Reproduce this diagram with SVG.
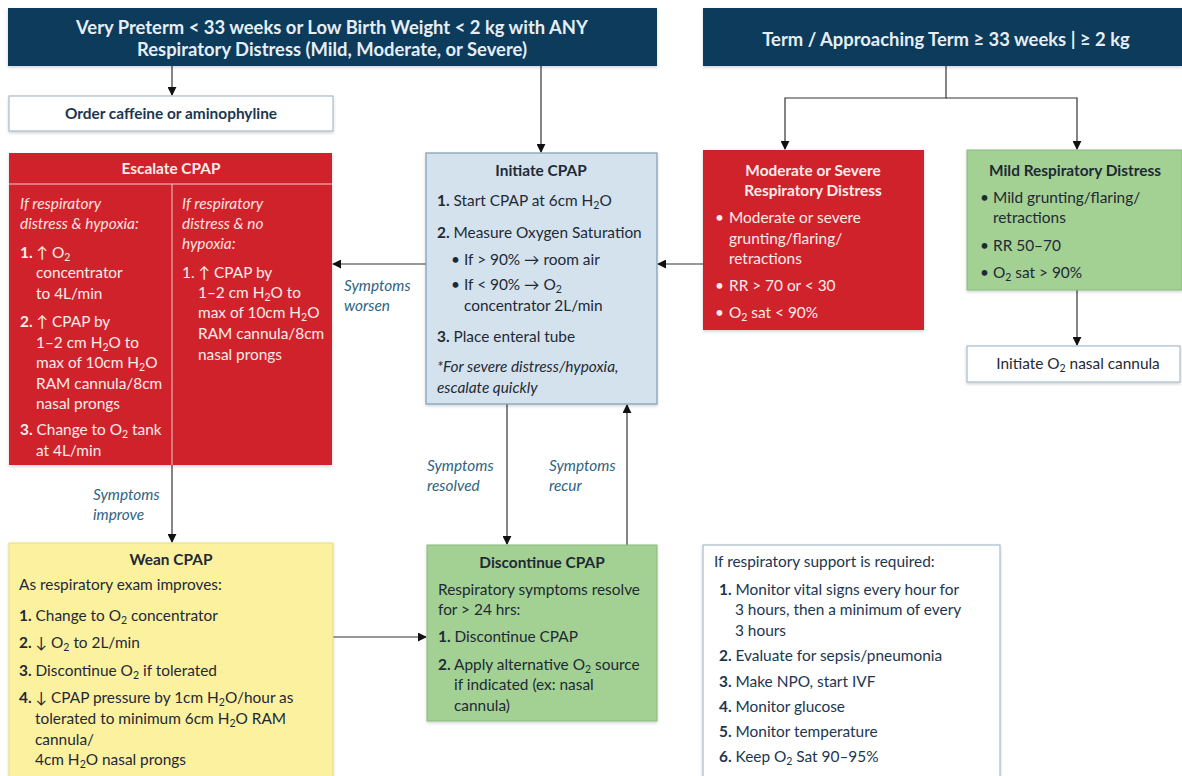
<svg xmlns="http://www.w3.org/2000/svg" width="1182" height="776" viewBox="0 0 1182 776">
  <defs>
    <style>
      text { font-family: Lato, "Open Sans", "Liberation Sans", sans-serif; font-size: 15.4px; fill: #1e2a36; }
      .hdrt { font-weight: bold; font-size: 18.4px; fill: #e6eef4; }
      .hdr { fill: #0e3a5c; }
      .b { font-weight: bold; }
      .it { font-style: italic; }
      .w { fill: #fbecec; }
      .wi { fill: #fbe3e3; font-style: italic; }
      .ttl { font-weight: bold; text-anchor: middle; }
      .nav { fill: #1c3650; }
      .lbl { fill: #2f6382; font-style: italic; }
      .s { font-size: 10.5px; }
      .red { fill: #d0222c; }
      .blue { fill: #d4e2ee; stroke: #7f9db3; stroke-width: 1.2; }
      .green { fill: #a3d093; stroke: #8ab87c; stroke-width: 1; }
      .yellow { fill: #fcf19f; stroke: #e8dc88; stroke-width: 1; }
      .plain { fill: #ffffff; stroke: #a9bccb; stroke-width: 1.2; }
      .conn line, .conn polyline { stroke: #333; stroke-width: 1.2; fill: none; }
    </style>
    <marker id="arr" viewBox="0 0 10 10" refX="9" refY="5" markerWidth="9" markerHeight="9" orient="auto" markerUnits="userSpaceOnUse">
      <path d="M0,0 L10,5 L0,10 z" fill="#111"/>
    </marker>
    <filter id="sh" x="-5%" y="-5%" width="110%" height="115%">
      <feDropShadow dx="0" dy="1.5" stdDeviation="1.5" flood-color="#000" flood-opacity="0.18"/>
    </filter>
  </defs>

  <rect width="1182" height="776" fill="#ffffff"/>

  <!-- connectors -->
  <g class="conn" id="connectors">
    <line x1="172" y1="66" x2="172" y2="95" marker-end="url(#arr)"/>
    <line x1="541" y1="66" x2="541" y2="152" marker-end="url(#arr)"/>
    <polyline points="946,66 946,98 785,98 785,149" marker-end="url(#arr)"/>
    <polyline points="946,98 1077,98 1077,149" marker-end="url(#arr)"/>
    <line x1="703" y1="264" x2="658" y2="264" marker-end="url(#arr)"/>
    <line x1="426" y1="264" x2="333" y2="264" marker-end="url(#arr)"/>
    <line x1="1077" y1="290" x2="1077" y2="345" marker-end="url(#arr)"/>
    <line x1="507" y1="404" x2="507" y2="544" marker-end="url(#arr)"/>
    <line x1="627" y1="545" x2="627" y2="405" marker-end="url(#arr)"/>
    <line x1="172" y1="465" x2="172" y2="542" marker-end="url(#arr)"/>
    <line x1="333" y1="637" x2="426" y2="637" marker-end="url(#arr)"/>
    <text class="lbl" x="344" y="291">Symptoms</text>
    <text class="lbl" x="344" y="311">worsen</text>
    <text class="lbl" x="427" y="471">Symptoms</text>
    <text class="lbl" x="427" y="491">resolved</text>
    <text class="lbl" x="549" y="471">Symptoms</text>
    <text class="lbl" x="549" y="491">recur</text>
    <text class="lbl" x="93" y="500">Symptoms</text>
    <text class="lbl" x="93" y="520">improve</text>
  </g>

  <!-- left header -->
  <g id="hdr-preterm">
    <rect class="hdr" x="8" y="8" width="649" height="58" filter="url(#sh)"/>
    <text class="hdrt" x="332" y="34" text-anchor="middle">Very Preterm &lt; 33 weeks or Low Birth Weight &lt; 2 kg with ANY</text>
    <text class="hdrt" x="332" y="56" text-anchor="middle">Respiratory Distress (Mild, Moderate, or Severe)</text>
  </g>

  <!-- right header -->
  <g id="hdr-term">
    <rect class="hdr" x="703" y="8" width="479" height="58" filter="url(#sh)"/>
    <text class="hdrt" x="946" y="46" text-anchor="middle">Term / Approaching Term ≥ 33 weeks | ≥ 2 kg</text>
  </g>

  <!-- caffeine -->
  <g id="caffeine">
    <rect class="plain" x="9" y="96" width="324" height="35" filter="url(#sh)"/>
    <text class="b nav" x="171" y="119" text-anchor="middle">Order caffeine or aminophyline</text>
  </g>

  <!-- escalate CPAP -->
  <g id="escalate">
    <rect class="red" x="9" y="153" width="323" height="312" filter="url(#sh)"/>
    <line x1="9" y1="184" x2="332" y2="184" stroke="#f3c9c9" stroke-width="1"/>
    <line x1="172" y1="184" x2="172" y2="465" stroke="#f3c9c9" stroke-width="1"/>
    <text class="ttl w" x="171" y="174">Escalate CPAP</text>
    <text class="wi" x="20" y="209">If respiratory</text>
    <text class="wi" x="20" y="229">distress &amp; hypoxia:</text>
    <text class="w" x="20" y="258"><tspan class="b">1.</tspan> ↑ O<tspan class="s" baseline-shift="-3">2</tspan></text>
    <text class="w" x="36" y="278">concentrator</text>
    <text class="w" x="36" y="299">to 4L/min</text>
    <text class="w" x="20" y="327"><tspan class="b">2.</tspan> ↑ CPAP by</text>
    <text class="w" x="36" y="348">1–2 cm H<tspan class="s" baseline-shift="-3">2</tspan>O to</text>
    <text class="w" x="36" y="368">max of 10cm H<tspan class="s" baseline-shift="-3">2</tspan>O</text>
    <text class="w" x="36" y="389">RAM cannula/8cm</text>
    <text class="w" x="36" y="409">nasal prongs</text>
    <text class="w" x="20" y="435"><tspan class="b">3.</tspan> Change to O<tspan class="s" baseline-shift="-3">2</tspan> tank</text>
    <text class="w" x="36" y="456">at 4L/min</text>

    <text class="wi" x="182" y="209">If respiratory</text>
    <text class="wi" x="182" y="229">distress &amp; no</text>
    <text class="wi" x="182" y="249">hypoxia:</text>
    <text class="w" x="182" y="278">1. ↑ CPAP by</text>
    <text class="w" x="198" y="298">1–2 cm H<tspan class="s" baseline-shift="-3">2</tspan>O to</text>
    <text class="w" x="198" y="318">max of 10cm H<tspan class="s" baseline-shift="-3">2</tspan>O</text>
    <text class="w" x="198" y="339">RAM cannula/8cm</text>
    <text class="w" x="198" y="360">nasal prongs</text>
  </g>

  <!-- initiate CPAP -->
  <g id="initiate">
    <rect class="blue" x="426" y="153" width="231" height="251" filter="url(#sh)"/>
    <text class="ttl" x="541" y="176">Initiate CPAP</text>
    <text x="437" y="206"><tspan class="b">1.</tspan> Start CPAP at 6cm H<tspan class="s" baseline-shift="-3">2</tspan>O</text>
    <text x="437" y="238"><tspan class="b">2.</tspan> Measure Oxygen Saturation</text>
    <text x="451" y="265">•</text>
    <text x="464" y="265">If &gt; 90% → room air</text>
    <text x="451" y="290">•</text>
    <text x="464" y="290">If &lt; 90% → O<tspan class="s" baseline-shift="-3">2</tspan></text>
    <text x="464" y="311">concentrator 2L/min</text>
    <text x="437" y="342"><tspan class="b">3.</tspan> Place enteral tube</text>
    <text class="it" x="437" y="372">*For severe distress/hypoxia,</text>
    <text class="it" x="437" y="393">escalate quickly</text>
  </g>

  <!-- moderate / severe -->
  <g id="moderate">
    <rect class="red" x="703" y="150" width="221" height="180" filter="url(#sh)"/>
    <text class="ttl w" x="813" y="176">Moderate or Severe</text>
    <text class="ttl w" x="813" y="196">Respiratory Distress</text>
    <text class="w" x="715" y="223">•</text>
    <text class="w" x="729" y="223">Moderate or severe</text>
    <text class="w" x="729" y="244">grunting/flaring/</text>
    <text class="w" x="729" y="264">retractions</text>
    <text class="w" x="715" y="291">•</text>
    <text class="w" x="729" y="291">RR &gt; 70 or &lt; 30</text>
    <text class="w" x="715" y="318">•</text>
    <text class="w" x="729" y="318">O<tspan class="s" baseline-shift="-3">2</tspan> sat &lt; 90%</text>
  </g>

  <!-- mild -->
  <g id="mild">
    <rect class="green" x="967" y="150" width="215" height="140" filter="url(#sh)"/>
    <text class="ttl" x="1075" y="176">Mild Respiratory Distress</text>
    <text x="980" y="203">•</text>
    <text x="993" y="203">Mild grunting/flaring/</text>
    <text x="993" y="223">retractions</text>
    <text x="980" y="251">•</text>
    <text x="993" y="251">RR 50–70</text>
    <text x="980" y="278">•</text>
    <text x="993" y="278">O<tspan class="s" baseline-shift="-3">2</tspan> sat &gt; 90%</text>
  </g>

  <!-- nasal cannula -->
  <g id="nasal">
    <rect class="plain" x="967" y="346" width="213" height="36" filter="url(#sh)"/>
    <text x="1078" y="369" text-anchor="middle" fill="#2a3540">Initiate O<tspan class="s" baseline-shift="-3">2</tspan> nasal cannula</text>
  </g>

  <!-- wean CPAP -->
  <g id="wean">
    <rect class="yellow" x="9" y="543" width="324" height="240" filter="url(#sh)"/>
    <text class="ttl" x="171" y="565">Wean CPAP</text>
    <text x="19" y="590">As respiratory exam improves:</text>
    <text x="19" y="621"><tspan class="b">1.</tspan> Change to O<tspan class="s" baseline-shift="-3">2</tspan> concentrator</text>
    <text x="19" y="648"><tspan class="b">2.</tspan> ↓ O<tspan class="s" baseline-shift="-3">2</tspan> to 2L/min</text>
    <text x="19" y="676"><tspan class="b">3.</tspan> Discontinue O<tspan class="s" baseline-shift="-3">2</tspan> if tolerated</text>
    <text x="19" y="703"><tspan class="b">4.</tspan> ↓ CPAP pressure by 1cm H<tspan class="s" baseline-shift="-3">2</tspan>O/hour as</text>
    <text x="35" y="724">tolerated to minimum 6cm H<tspan class="s" baseline-shift="-3">2</tspan>O RAM</text>
    <text x="35" y="745">cannula/</text>
    <text x="35" y="765">4cm H<tspan class="s" baseline-shift="-3">2</tspan>O nasal prongs</text>
  </g>

  <!-- discontinue CPAP -->
  <g id="discontinue">
    <rect class="green" x="427" y="545" width="230" height="176" filter="url(#sh)"/>
    <text class="ttl" x="542" y="568">Discontinue CPAP</text>
    <text x="438" y="595">Respiratory symptoms resolve</text>
    <text x="438" y="615">for &gt; 24 hrs:</text>
    <text x="438" y="642"><tspan class="b">1.</tspan> Discontinue CPAP</text>
    <text x="438" y="670"><tspan class="b">2.</tspan> Apply alternative O<tspan class="s" baseline-shift="-3">2</tspan> source</text>
    <text x="454" y="690">if indicated (ex: nasal</text>
    <text x="454" y="711">cannula)</text>
  </g>

  <!-- support measures -->
  <g id="support">
    <rect class="plain" x="703" y="545" width="297" height="240" filter="url(#sh)"/>
    <text class="nav" x="714" y="567">If respiratory support is required:</text>
    <text class="nav" x="719" y="595"><tspan class="b">1.</tspan> Monitor vital signs every hour for</text>
    <text class="nav" x="735" y="615">3 hours, then a minimum of every</text>
    <text class="nav" x="735" y="636">3 hours</text>
    <text class="nav" x="719" y="661"><tspan class="b">2.</tspan> Evaluate for sepsis/pneumonia</text>
    <text class="nav" x="719" y="687"><tspan class="b">3.</tspan> Make NPO, start IVF</text>
    <text class="nav" x="719" y="712"><tspan class="b">4.</tspan> Monitor glucose</text>
    <text class="nav" x="719" y="737"><tspan class="b">5.</tspan> Monitor temperature</text>
    <text class="nav" x="719" y="762"><tspan class="b">6.</tspan> Keep O<tspan class="s" baseline-shift="-3">2</tspan> Sat 90–95%</text>
  </g>
</svg>
